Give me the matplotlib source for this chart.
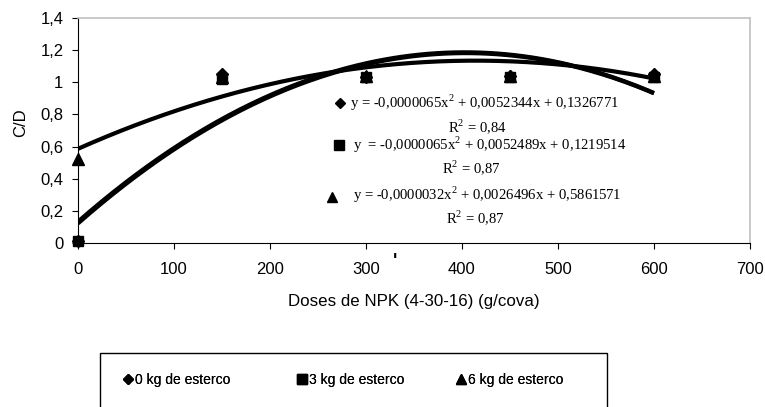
import matplotlib.pyplot as plt
import numpy as np
from matplotlib.lines import Line2D
from matplotlib.patches import Rectangle

# doses de NPK (g/cova)
doses = [0, 150, 300, 450, 600]

# C/D observado
cd_0kg = [0.01, 1.05, 1.03, 1.04, 1.05]
cd_3kg = [0.01, 1.02, 1.03, 1.03, 1.03]
cd_6kg = [0.52, 1.03, 1.04, 1.04, 1.04]

# coeficientes das linhas de tendencia (a, b, c) de y = a x^2 + b x + c
coef_0kg = [-0.0000065, 0.0052344, 0.1326771]
coef_3kg = [-0.0000065, 0.0052489, 0.1219514]
coef_6kg = [-0.0000032, 0.0026496, 0.5861571]
r2 = ['0,84', '0,87', '0,87']

labels = ['0 kg de esterco', '3 kg de esterco', '6 kg de esterco']
eq_text = ['y = -0,0000065x$^2$ + 0,0052344x + 0,1326771',
           'y  = -0,0000065x$^2$ + 0,0052489x + 0,1219514',
           'y = -0,0000032x$^2$ + 0,0026496x + 0,5861571']

xticks = [0, 100, 200, 300, 400, 500, 600, 700]
yticks = [0, 0.2, 0.4, 0.6, 0.8, 1.0, 1.2, 1.4]
ytick_labels = ['0', '0,2', '0,4', '0,6', '0,8', '1', '1,2', '1,4']

plt.rcParams['font.family'] = ['Liberation Sans', 'DejaVu Sans']
plt.rcParams['mathtext.fontset'] = 'custom'
plt.rcParams['mathtext.rm'] = 'Liberation Serif'

W, H = 765, 407
fig = plt.figure(figsize=(W / 100, H / 100), dpi=100)
ax = fig.add_axes([78 / W, 1 - 243 / H, (750 - 78) / W, (243 - 18) / H])

xs = np.linspace(0, 600, 200)
for coef in [coef_0kg, coef_3kg, coef_6kg]:
    ax.plot(xs, np.polyval(coef, xs), color='black', lw=3, solid_capstyle='butt', zorder=2)

markers = ['D', 's', '^']
sizes = [6.5, 7.5, 8]
for vals, m, s in zip([cd_0kg, cd_3kg, cd_6kg], markers, sizes):
    ax.plot(doses, vals, linestyle='none', marker=m, ms=s, color='black', clip_on=False, zorder=3)

ax.set_xlim(0, 700)
ax.set_ylim(0, 1.4)
ax.set_xticks(xticks)
ax.set_yticks(yticks)
ax.set_yticklabels(ytick_labels)
ax.tick_params(axis='x', direction='out', length=4, pad=9.5, labelsize=12)
ax.tick_params(axis='y', direction='out', length=4, pad=6.5, labelsize=12)
for side in ['top', 'right']:
    ax.spines[side].set_color('#c0c0c0')
    ax.spines[side].set_linewidth(1.2)

fig.text(414 / W, 1 - 306 / H, 'Doses de NPK (4-30-16) (g/cova)', fontsize=12.2,
         ha='center', va='baseline')
fig.text(21 / W, 1 - 123 / H, 'C/D', fontsize=12, rotation=90, ha='center', va='center')

# equacoes das linhas de tendencia
mk_x = [340, 339, 332]
mk_y = [103, 145, 197]
eq_x = [350, 353, 353]
eq_y = [108, 150, 200]
r2_x = [477, 471, 475]
r2_y = [132, 173, 223]
for i in range(3):
    fig.lines.append(Line2D([mk_x[i] / W], [1 - mk_y[i] / H], marker=markers[i], ms=sizes[i] - 1,
                            color='black', linestyle='none', transform=fig.transFigure))
    fig.text(eq_x[i] / W, 1 - eq_y[i] / H, eq_text[i], fontsize=10.6, family='Liberation Serif',
             ha='left', va='baseline')
    fig.text(r2_x[i] / W, 1 - r2_y[i] / H, 'R$^2$ = ' + r2[i], fontsize=10.6,
             family='Liberation Serif', ha='center', va='baseline')

fig.text(395 / W, 1 - 261 / H, "'", fontsize=13, fontweight='bold', ha='center', va='center')

# legenda
fig.patches.append(Rectangle((100 / W, -0.1), 507 / W, 0.1 + 1 - 353 / H, fill=False,
                             edgecolor='black', lw=1, transform=fig.transFigure))
leg_x = [124, 298, 457]
for i in range(3):
    h = Line2D([], [], marker=markers[i], ms=sizes[i] - 1, color='black', linestyle='none')
    leg = fig.legend([h], [labels[i]], loc='center left', bbox_to_anchor=(leg_x[i] / W, 1 - 380 / H),
                     frameon=False, fontsize=10, handlelength=0.6, handletextpad=0.2,
                     borderaxespad=0, borderpad=0)
    fig.add_artist(leg)

fig.savefig('out.png', dpi=100)
